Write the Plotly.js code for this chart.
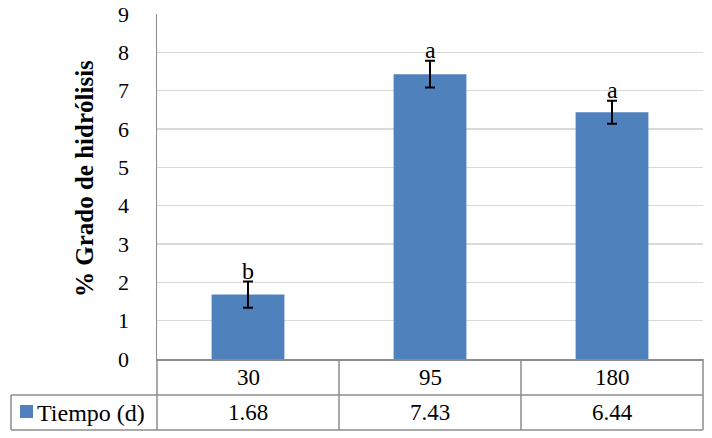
<!DOCTYPE html>
<html>
<head>
<meta charset="utf-8">
<script src="https://cdn.plot.ly/plotly-3.0.1.min.js"></script>
<style>html,body{margin:0;padding:0;background:#fff;}#chart{width:712px;height:438px;}</style>
</head>
<body>
<div id="chart"></div>
<script>
// Data
const categories = ["30", "95", "180"];
const values = [1.68, 7.43, 6.44];
const errors = [0.34, 0.35, 0.30];
const letters = ["b", "a", "a"];
const seriesName = "Tiempo (d)";
const yTitle = "% Grado de hidrólisis";

const FONT = "Liberation Serif";
const BAR = "#4F81BD";
const LINE = "#8C8C8C";

// plot area geometry (pixels)
const L = 157, R = 9, T = 14, B = 79, W = 712, H = 438;
const pw = W - L - R, ph = H - T - B;
const px = p => (p - L) / pw;            // pixel x -> paper x
const py = p => (H - B - p) / ph;        // pixel y -> paper y

const trace = {
  type: "bar",
  x: categories,
  y: values,
  marker: {color: BAR},
  error_y: {type: "data", array: errors, visible: true, color: "#000", thickness: 2, width: 5},
  hoverinfo: "none"
};

const shapes = [];
const annotations = [];
const yRow1 = py(395), yRow2 = py(430);
const ln = {color: LINE, width: 1.5};
// horizontal lines of table
shapes.push({type: "line", xref: "paper", yref: "paper", x0: px(11), x1: 1, y0: yRow1, y1: yRow1, line: ln});
shapes.push({type: "line", xref: "paper", yref: "paper", x0: px(11), x1: 1, y0: yRow2, y1: yRow2, line: ln});
// vertical lines
shapes.push({type: "line", xref: "paper", yref: "paper", x0: 0, x1: 0, y0: 0, y1: yRow2, line: ln});
shapes.push({type: "line", xref: "paper", yref: "paper", x0: px(11), x1: px(11), y0: yRow1, y1: yRow2, line: ln});
shapes.push({type: "line", xref: "paper", yref: "paper", x0: 1, x1: 1, y0: 0, y1: yRow2, line: ln});
for (let i = 1; i < categories.length; i++) {
  const xb = i / categories.length;
  shapes.push({type: "line", xref: "paper", yref: "paper", x0: xb, x1: xb, y0: 0, y1: yRow2, line: ln});
}
// legend key
shapes.push({type: "rect", xref: "paper", yref: "paper", x0: px(20), x1: px(33), y0: py(405), y1: py(418), fillcolor: BAR, line: {width: 0}});
annotations.push({xref: "paper", yref: "paper", x: px(35), y: (yRow1 + yRow2) / 2, xanchor: "left", yanchor: "middle",
  text: seriesName, showarrow: false, font: {family: FONT, size: 24, color: "#000"}});

// y-axis title
annotations.push({xref: "paper", yref: "paper", x: px(84), y: py(179), xanchor: "center", yanchor: "middle",
  textangle: -90, text: "<b>" + yTitle + "</b>", showarrow: false, font: {family: FONT, size: 25, color: "#000"}});

categories.forEach((c, i) => {
  annotations.push({xref: "x", yref: "paper", x: i, y: yRow1 / 2, xanchor: "center", yanchor: "middle",
    text: c, showarrow: false, font: {family: FONT, size: 23, color: "#000"}});
  annotations.push({xref: "x", yref: "paper", x: i, y: (yRow1 + yRow2) / 2, xanchor: "center", yanchor: "middle",
    text: values[i].toFixed(2), showarrow: false, font: {family: FONT, size: 23, color: "#000"}});
  annotations.push({xref: "x", yref: "y", x: i, y: values[i] + errors[i], xanchor: "center", yanchor: "bottom",
    yshift: -4, text: letters[i], showarrow: false, font: {family: FONT, size: 24, color: "#000"}});
});

const layout = {
  width: W, height: H,
  margin: {l: L, r: R, t: T, b: B, pad: 0},
  paper_bgcolor: "#fff", plot_bgcolor: "#fff",
  showlegend: false,
  bargap: 0.6,
  font: {family: FONT, size: 21, color: "#000"},
  xaxis: {type: "category", range: [-0.5, 2.5], showticklabels: false, ticks: "", showgrid: false, zeroline: false,
    showline: true, linecolor: LINE, linewidth: 1.5, fixedrange: true},
  yaxis: {range: [0, 9], dtick: 1, tick0: 0, showgrid: true, gridcolor: "#D9D9D9", gridwidth: 1.5, zeroline: false,
    showline: true, linecolor: LINE, linewidth: 1.5, ticks: "", ticklabelstandoff: 22,
    tickfont: {family: FONT, size: 22, color: "#000"},
    fixedrange: true},
  shapes: shapes,
  annotations: annotations
};

Plotly.newPlot("chart", [trace], layout, {displayModeBar: false, staticPlot: true});
</script>
</body>
</html>
